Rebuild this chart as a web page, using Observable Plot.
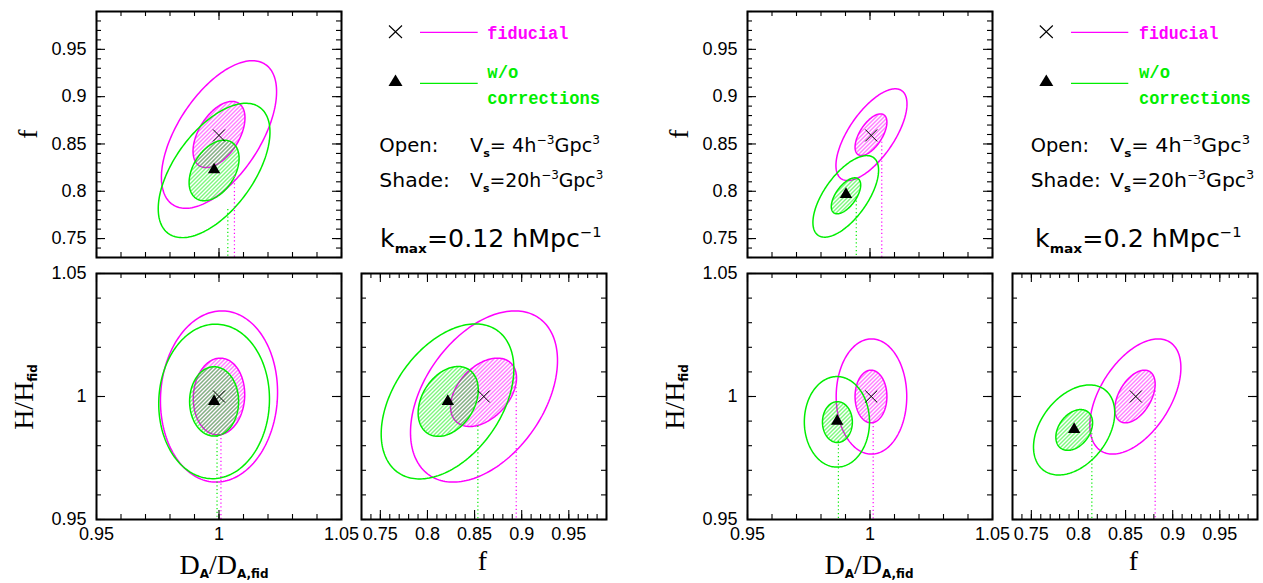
<!DOCTYPE html>
<html><head><meta charset="utf-8">
<script src="https://cdn.jsdelivr.net/npm/d3@7"></script>
<script src="https://cdn.jsdelivr.net/npm/@observablehq/plot@0.6"></script>
<style>
html,body{margin:0;padding:0;background:#fff;}
#fig{position:relative;width:1263px;height:583px;overflow:hidden;background:#fff;}
.lab{position:absolute;white-space:nowrap;transform:translate(-50%,-50%);font-family:"Liberation Serif",serif;font-size:28px;color:#000;line-height:1;}
.lab.rot{transform:translate(-50%,-50%) rotate(-90deg);}
.lab sub{font-family:"DejaVu Sans",sans-serif;font-weight:bold;font-size:12px;vertical-align:-0.35em;line-height:0;}
#legend{position:absolute;left:0;top:0;pointer-events:none;}
</style></head><body><div id="fig"></div>
<script>
// ---------- data ----------
const models = ["fiducial", "w/o corrections"];
const MAG = "#ff00ff", GRN = "#00ee00";

const DA_domain = [0.95, 1.05];
const H_domain = [0.95, 1.05];
const f_domain = [0.73, 0.99];
const DA_ticks = [0.95, 1, 1.05];
const H_ticks = [0.95, 1, 1.05];
const f_ticks = [0.75, 0.8, 0.85, 0.9, 0.95];

// ellipses: [model, survey volume (h^-3 Gpc^3), centre x, centre y, half-width x, half-height y, correlation]
const k012_DA_f = [
  ["fiducial", 4, 1.000, 0.860, 0.0235, 0.078, 0.58],
  ["fiducial", 20, 1.000, 0.860, 0.0106, 0.035, 0.50],
  ["w/o corrections", 4, 0.998, 0.822, 0.0228, 0.071, 0.57],
  ["w/o corrections", 20, 0.998, 0.822, 0.0102, 0.032, 0.40]
];
const k012_DA_H = [
  ["fiducial", 4, 1.000, 1.000, 0.0239, 0.0348, 0.05],
  ["fiducial", 20, 1.000, 1.000, 0.0105, 0.0156, 0.05],
  ["w/o corrections", 4, 0.998, 0.998, 0.0226, 0.0314, 0.03],
  ["w/o corrections", 20, 0.998, 0.998, 0.0100, 0.0141, 0.0]
];
const k012_f_H = [
  ["fiducial", 4, 0.860, 1.000, 0.078, 0.0348, 0.42],
  ["fiducial", 20, 0.8595, 1.0017, 0.035, 0.0139, 0.42],
  ["w/o corrections", 4, 0.8213, 0.998, 0.0704, 0.0315, 0.42],
  ["w/o corrections", 20, 0.822, 0.998, 0.0319, 0.0142, 0.33]
];
const k02_DA_f = [
  ["fiducial", 4, 1.0006, 0.8598, 0.0145, 0.0485, 0.67],
  ["fiducial", 20, 1.0004, 0.8598, 0.0065, 0.022, 0.60],
  ["w/o corrections", 4, 0.9901, 0.7946, 0.0134, 0.0431, 0.64],
  ["w/o corrections", 20, 0.9902, 0.7952, 0.0060, 0.019, 0.60]
];
const k02_DA_H = [
  ["fiducial", 4, 1.0006, 1.000, 0.0144, 0.0234, 0.0],
  ["fiducial", 20, 1.0004, 1.000, 0.0065, 0.0107, 0.0],
  ["w/o corrections", 4, 0.9865, 0.9897, 0.0133, 0.0184, 0.0],
  ["w/o corrections", 20, 0.9867, 0.9896, 0.0061, 0.0083, 0.0]
];
const k02_f_H = [
  ["fiducial", 4, 0.8604, 1.000, 0.0483, 0.0234, 0.50],
  ["fiducial", 20, 0.8600, 1.000, 0.0214, 0.0107, 0.47],
  ["w/o corrections", 4, 0.7954, 0.9864, 0.0431, 0.0183, 0.38],
  ["w/o corrections", 20, 0.7955, 0.9864, 0.0195, 0.0083, 0.35]
];

// best-fit points: [model, x, y]
const k012_DA_f_pts = [["fiducial", 1.000, 0.859], ["w/o corrections", 0.998, 0.8227]];
const k012_DA_H_pts = [["fiducial", 1.000, 1.000], ["w/o corrections", 0.998, 0.998]];
const k012_f_H_pts = [["fiducial", 0.8598, 1.000], ["w/o corrections", 0.8216, 0.998]];
const k02_DA_f_pts = [["fiducial", 1.0005, 0.859], ["w/o corrections", 0.9902, 0.7966]];
const k02_DA_H_pts = [["fiducial", 1.0005, 1.000], ["w/o corrections", 0.9866, 0.990]];
const k02_f_H_pts = [["fiducial", 0.8609, 1.000], ["w/o corrections", 0.7954, 0.9866]];

// dotted markers: [model, x, upper y end]
const k012_DA_f_dot = [["w/o corrections", 1.0036, 0.7808], ["fiducial", 1.0063, 0.8159]];
const k012_DA_H_dot = [["w/o corrections", 0.9992, 0.9838], ["fiducial", 1.0008, 0.9845]];
const k012_f_H_dot = [["w/o corrections", 0.8535, 0.9879], ["fiducial", 0.8942, 1.0036]];
const k02_DA_f_dot = [["w/o corrections", 0.9944, 0.7937], ["fiducial", 1.0048, 0.8519]];
const k02_DA_H_dot = [["w/o corrections", 0.9871, 0.9818], ["fiducial", 1.0013, 0.9893]];
const k02_f_H_dot = [["w/o corrections", 0.8142, 0.9849], ["fiducial", 0.8814, 1.0022]];

// ---------- drawing ----------
const FW = 245, FH = 246, ML = 62, MR = 12, MT = 12, MB = 44;
const fig = document.getElementById("fig");
const fmt = d => String(Math.round(d * 100) / 100);
const minorOf = dom => d3.range(Math.round(dom[0] * 100), Math.round(dom[1] * 100) + 1).map(i => i / 100);

function ellPts(row) {
  const [, , cx, cy, sx, sy, rho] = row;
  const s = Math.sqrt(1 - rho * rho);
  return d3.range(0, 181).map(i => {
    const t = 2 * Math.PI * i / 180;
    return {x: cx + sx * Math.cos(t), y: cy + sy * (rho * Math.cos(t) + s * Math.sin(t))};
  });
}

let uidCount = 0;
function panel(o) {
  const uid = "p" + (uidCount++);
  const defsMark = () => {
    const defs = d3.create("svg:defs");
    [MAG, GRN].forEach((c, i) => {
      const p = defs.append("pattern").attr("id", `${uid}h${i}`)
        .attr("patternUnits", "userSpaceOnUse").attr("width", 4).attr("height", 4);
      p.append("path").attr("d", "M-1,1 l2,-2 M0,4 l4,-4 M3,5 l2,-2")
        .attr("stroke", c).attr("stroke-width", 1).attr("fill", "none")
        .attr("shape-rendering", "crispEdges");
    });
    return defs.node();
  };
  const marks = [defsMark];
  o.ellipses.forEach(row => {
    const fid = row[0] === "fiducial";
    marks.push(Plot.line(ellPts(row), {
      x: "x", y: "y", stroke: fid ? MAG : GRN, strokeWidth: 1.5,
      fill: row[1] === 20 ? `url(#${uid}h${fid ? 0 : 1})` : "none"
    }));
  });
  marks.push(Plot.ruleX(o.dots, {
    x: d => d[1], y1: d => d[2], y2: () => o.yDomain[0],
    stroke: d => d[0], strokeWidth: 1.2, strokeDasharray: "1.2,2.6"
  }));
  marks.push(Plot.dot(o.pts.filter(d => d[0] === "fiducial"), {
    x: d => d[1], y: d => d[2], symbol: "times", r: 5.5, stroke: "black", strokeWidth: 1
  }));
  marks.push(Plot.dot(o.pts.filter(d => d[0] !== "fiducial"), {
    x: d => d[1], y: d => d[2], symbol: "triangle", r: 4.6, fill: "black", stroke: "none"
  }));
  // inward ticks on all four sides
  const xMin = minorOf(o.xDomain), yMin = minorOf(o.yDomain);
  const xMaj = xMin.filter(v => Math.abs(v * 20 - Math.round(v * 20)) < 1e-6);
  const yMaj = yMin.filter(v => Math.abs(v * 20 - Math.round(v * 20)) < 1e-6);
  const tk = {stroke: "black", strokeWidth: 1.1};
  [[xMin, 5], [xMaj, 9]].forEach(([t, L]) => {
    marks.push(Plot.ruleX(t, {x: d => d, insetTop: FH - L, ...tk}));
    marks.push(Plot.ruleX(t, {x: d => d, insetBottom: FH - L, ...tk}));
  });
  [[yMin, 5], [yMaj, 9]].forEach(([t, L]) => {
    marks.push(Plot.ruleY(t, {y: d => d, insetRight: FW - L, ...tk}));
    marks.push(Plot.ruleY(t, {y: d => d, insetLeft: FW - L, ...tk}));
  });
  marks.push(Plot.frame({stroke: "black", strokeWidth: 2}));
  if (o.xLabels) marks.push(Plot.axisX(o.xLabels, {tickSize: 0, tickPadding: 8, tickFormat: fmt, fontSize: 18, label: null}));
  if (o.yLabels) marks.push(Plot.axisY(o.yLabels, {tickSize: 0, tickPadding: 10, tickFormat: fmt, fontSize: 18, label: null}));
  const svg = Plot.plot({
    width: ML + FW + MR, height: MT + FH + MB,
    marginLeft: ML, marginRight: MR, marginTop: MT, marginBottom: MB,
    x: {domain: o.xDomain, label: null, axis: o.xLabels ? undefined : null},
    y: {domain: o.yDomain, label: null, axis: o.yLabels ? undefined : null},
    color: {domain: models, range: [MAG, GRN]},
    style: {background: "transparent", overflow: "visible", fontFamily: "Liberation Sans, Arial, sans-serif", fontSize: "18px", color: "black"},
    marks
  });
  svg.style.position = "absolute";
  svg.style.left = (o.left - ML) + "px";
  svg.style.top = (o.top - MT) + "px";
  svg.style.maxWidth = "none";
  fig.appendChild(svg);
}

const sets = [
  {ox: 96, ox2: 361, E: [k012_DA_f, k012_DA_H, k012_f_H], P: [k012_DA_f_pts, k012_DA_H_pts, k012_f_H_pts], D: [k012_DA_f_dot, k012_DA_H_dot, k012_f_H_dot]},
  {ox: 747, ox2: 1012, E: [k02_DA_f, k02_DA_H, k02_f_H], P: [k02_DA_f_pts, k02_DA_H_pts, k02_f_H_pts], D: [k02_DA_f_dot, k02_DA_H_dot, k02_f_H_dot]}
];
sets.forEach(s => {
  panel({left: s.ox, top: 11, xDomain: DA_domain, yDomain: f_domain, yLabels: f_ticks, ellipses: s.E[0], pts: s.P[0], dots: s.D[0]});
  panel({left: s.ox, top: 273, xDomain: DA_domain, yDomain: H_domain, xLabels: DA_ticks, yLabels: H_ticks, ellipses: s.E[1], pts: s.P[1], dots: s.D[1]});
  panel({left: s.ox2, top: 273, xDomain: f_domain, yDomain: H_domain, xLabels: f_ticks, ellipses: s.E[2], pts: s.P[2], dots: s.D[2]});
});

// axis titles
function lab(html, x, y, rot) {
  const d = document.createElement("div");
  d.className = "lab" + (rot ? " rot" : "");
  d.style.left = x + "px"; d.style.top = y + "px";
  d.innerHTML = html;
  fig.appendChild(d);
}
[[0, 224, 482.5], [651, 869, 1133.3]].forEach(([dx, dcx, fcx]) => {
  lab("f", 28 + dx, 134, true);
  lab("H/H<sub>fid</sub>", 24 + dx, 397, true);
  lab("D<sub>A</sub>/D<sub>A,fid</sub>", dcx, 565, false);
  lab("f", fcx, 561, false);
});

// legend / annotations
function legend(o) {
  const sans = 'font-family="DejaVu Sans, sans-serif"';
  const mono = 'font-family="Liberation Mono, DejaVu Sans Mono, monospace" font-weight="bold" font-size="19"';
  return `
  <g stroke="black" stroke-width="1.1"><path d="M${o.mx - 6.5},${25.5} L${o.mx + 6.5},${38} M${o.mx - 6.5},${38} L${o.mx + 6.5},${25.5}"/></g>
  <path d="M${o.mx - 7},86 L${o.mx + 7},86 L${o.mx},74.5 Z" fill="black"/>
  <line x1="${o.l1}" x2="${o.l2}" y1="32.3" y2="32.3" stroke="${MAG}" stroke-width="1.3"/>
  <line x1="${o.l1}" x2="${o.l2}" y1="83.3" y2="83.3" stroke="${GRN}" stroke-width="1.3"/>
  <text x="${o.tx}" y="39" ${mono} fill="${MAG}" textLength="${o.wFid}" lengthAdjust="spacingAndGlyphs">fiducial</text>
  <text x="${o.tx}" y="78" ${mono} fill="${GRN}" textLength="${o.wWo}" lengthAdjust="spacingAndGlyphs">w/o</text>
  <text x="${o.tx}" y="104" ${mono} fill="${GRN}" textLength="${o.wCor}" lengthAdjust="spacingAndGlyphs">corrections</text>
  <text x="${o.ox}" y="152" ${sans} font-size="19" textLength="${o.wOpen}" lengthAdjust="spacingAndGlyphs">Open:</text>
  <text x="${o.vx}" y="152" ${sans} font-size="19" textLength="${o.wV1}" lengthAdjust="spacingAndGlyphs">V<tspan font-size="11" font-weight="bold" dy="5">s</tspan><tspan dy="-5">= 4h</tspan><tspan font-size="12" dy="-8">−3</tspan><tspan dy="8">Gpc</tspan><tspan font-size="12" dy="-8">3</tspan></text>
  <text x="${o.ox}" y="187" ${sans} font-size="19" textLength="${o.wShade}" lengthAdjust="spacingAndGlyphs">Shade:</text>
  <text x="${o.vx}" y="187" ${sans} font-size="19" textLength="${o.wV2}" lengthAdjust="spacingAndGlyphs">V<tspan font-size="11" font-weight="bold" dy="5">s</tspan><tspan dy="-5">=20h</tspan><tspan font-size="12" dy="-8">−3</tspan><tspan dy="8">Gpc</tspan><tspan font-size="12" dy="-8">3</tspan></text>
  <text x="${o.kx}" y="247" ${sans} font-size="24" textLength="${o.wK}" lengthAdjust="spacingAndGlyphs">k<tspan font-size="13" font-weight="bold" dy="6">max</tspan><tspan dy="-6">=${o.k} hMpc</tspan><tspan font-size="14" dy="-10">−1</tspan></text>`;
}
const legSvg = `<svg id="legend" width="1263" height="583" xmlns="http://www.w3.org/2000/svg">
${legend({mx: 395.5, l1: 420, l2: 477.7, tx: 487.3, wFid: 81, wWo: 31, wCor: 112.7, ox: 379.3, vx: 470, wOpen: 59, wShade: 70.7, wV1: 130, wV2: 133.3, kx: 380, wK: 221.7, k: "0.12"})}
${legend({mx: 1046.3, l1: 1071, l2: 1128.3, tx: 1139, wFid: 79.3, wWo: 31, wCor: 111.7, ox: 1030.7, vx: 1110, wOpen: 58.3, wShade: 70, wV1: 140, wV2: 144.3, kx: 1035, wK: 206.7, k: "0.2"})}
</svg>`;
fig.insertAdjacentHTML("beforeend", legSvg);
</script></body></html>
